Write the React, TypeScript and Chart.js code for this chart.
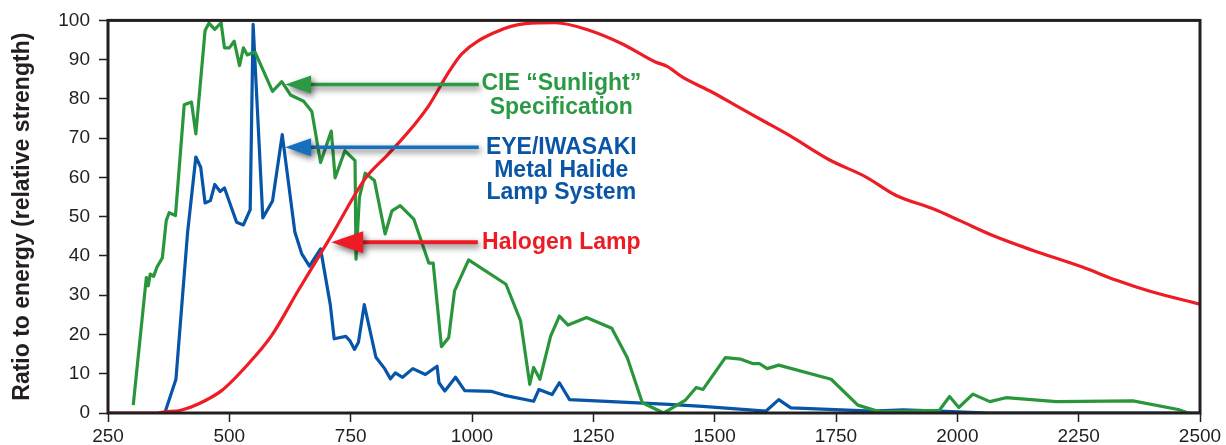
import React, { useEffect, useRef } from "react";
import { Chart, registerables } from "chart.js";

Chart.register(...registerables);

// ---- Data ----
const xTickValues = [250, 500, 750, 1000, 1250, 1500, 1750, 2000, 2250, 2500];
const yTickValues = [0, 10, 20, 30, 40, 50, 60, 70, 80, 90, 100];

const cieWavelengths = [
  302, 329, 333, 337, 344, 351, 362, 370, 376, 389, 407, 422, 431, 450, 458, 470, 483, 490, 500, 510,
  521, 529, 537, 546, 553, 589, 608, 626, 653, 670, 688, 710, 718, 738, 759, 761, 768, 780, 799, 821,
  835, 852, 880, 911, 920, 937, 952, 964, 993, 1070, 1100, 1119, 1127, 1140, 1162, 1180, 1198, 1236,
  1288, 1320, 1351, 1395, 1440, 1462, 1476, 1522, 1554, 1578, 1592, 1608, 1632, 1740, 1795, 1840,
  1963, 1984, 2003, 2032, 2067, 2100, 2204, 2362, 2455, 2476,
];
const cieValues = [
  2, 34.5, 32.4, 35.4, 34.8, 37.2, 39.5, 49, 51, 50.3, 78.5, 79.2, 71.1, 97.4, 99.3, 97.7, 99.4, 93, 93, 94.7,
  88.5, 93, 91.2, 91.7, 91.9, 81.9, 84.4, 81, 79.4, 76.8, 63.8, 71.8, 59.9, 66.8, 64.3, 39.2, 54.9, 61.1, 59.2, 45.6,
  51.5, 52.8, 49.4, 38.2, 38.2, 16.9, 19.2, 31.1, 39, 32.8, 23.5, 7.3, 11.6, 8.6, 19.6, 24.7, 22.4, 24.3,
  21.6, 14.1, 2.6, 0, 3.3, 6.5, 6, 14.1, 13.7, 12.6, 12.6, 11.3, 12.2, 8.6, 2, 0.3,
  0.7, 4.2, 1.4, 4.8, 2.9, 3.9, 2.9, 3.1, 0.9, 0,
];

const eyeWavelengths = [
  367, 390, 414, 431, 441, 450, 461, 470, 481, 490, 515, 529, 543, 549, 569, 589, 609, 635, 649, 665,
  688, 708, 716, 740, 749, 758, 766, 778, 802, 820, 832, 842, 857, 878, 904, 928, 932, 944, 966, 985,
  1041, 1067, 1127, 1138, 1165, 1180, 1201, 1406, 1475, 1606, 1632, 1657, 1826, 1888, 1963, 2066, 2500,
];
const eyeValues = [
  0, 8.6, 46, 65.2, 62.6, 53.5, 54.1, 58.2, 56.4, 57.3, 48.6, 47.9, 51.8, 99, 49.7, 54, 70.9, 46.1, 40.6, 37.4,
  41.8, 27.6, 18.9, 19.5, 18.3, 16.2, 18, 27.6, 14.2, 11.3, 8.7, 10.2, 9.1, 11.3, 9.8, 11.9, 7.7, 5.6, 9.1, 5.7,
  5.5, 4.5, 3, 6, 4.7, 7.7, 3.4, 2.2, 1.7, 0.5, 3.4, 1.3, 0.5, 0.8, 0.5, 0, 0,
];

const halogenWavelengths = [
  250, 300, 350, 367, 400, 436, 484, 539, 587, 642, 711, 780, 828, 883, 911, 952, 979, 1048, 1110, 1172,
  1241, 1310, 1378, 1402, 1433, 1495, 1544, 1599, 1654, 1736, 1812, 1874, 1950, 2005, 2073, 2156, 2259,
  2328, 2397, 2500,
];
const halogenValues = [
  0, 0, 0, 0.3, 0.7, 2.3, 5.7, 12.5, 19.7, 31.2, 45.3, 59.7, 66, 73.7, 78.3, 86.8, 91.5, 97, 99.2, 99.4,
  97.5, 94, 89.4, 88.3, 85.6, 81.7, 78.3, 74.5, 70.7, 64.5, 60.1, 55.4, 52, 49, 45.2, 41.4, 37.1,
  33.8, 31, 27.7,
];

const seriesNames = ["CIE “Sunlight” Specification", "EYE/IWASAKI Metal Halide Lamp System", "Halogen Lamp"];
const yAxisTitle = "Ratio to energy (relative strength)";

// ---- Styles ----
const GREEN_LINE = "#2a963c";
const BLUE_LINE = "#0755a8";
const RED_LINE = "#ee1c25";
const GREEN_TEXT = "#2c9a45";
const BLUE_TEXT = "#0a55a6";
const RED_TEXT = "#ed1c24";
const BLUE_ARROW = "#1670bf";
const INK = "#231f20";
const FONT = "'Liberation Sans', Arial, Helvetica, sans-serif";

const toPoints = (xs: number[], ys: number[]) => xs.map((x, i) => ({ x, y: ys[i] }));

type Callout = {
  color: string;
  arrowColor: string;
  tip: [number, number];
  tailX: number;
  headLen: number;
  headHalf: number;
  lineW: number;
  lines: { text: string; y: number }[];
};

const callouts: Callout[] = [
  {
    color: GREEN_TEXT,
    arrowColor: GREEN_TEXT,
    tip: [615, 83.7],
    tailX: 1014,
    headLen: 26,
    headHalf: 9,
    lineW: 3.5,
    lines: [
      { text: "CIE “Sunlight”", y: 83.8 },
      { text: "Specification", y: 77.9 },
    ],
  },
  {
    color: BLUE_TEXT,
    arrowColor: BLUE_ARROW,
    tip: [615, 67.7],
    tailX: 1014,
    headLen: 26,
    headHalf: 9,
    lineW: 3.5,
    lines: [
      { text: "EYE/IWASAKI", y: 67.7 },
      { text: "Metal Halide", y: 61.8 },
      { text: "Lamp System", y: 56 },
    ],
  },
  {
    color: RED_TEXT,
    arrowColor: RED_TEXT,
    tip: [710, 43.5],
    tailX: 1012,
    headLen: 32,
    headHalf: 11,
    lineW: 4,
    lines: [{ text: "Halogen Lamp", y: 43.5 }],
  },
];
const calloutTextX = 1184;

const framePlugin = {
  id: "frameAndCallouts",
  afterDatasetsDraw(chart: any) {
    const { ctx, chartArea, scales } = chart;
    const xs = scales.x;
    const ys = scales.y;
    ctx.save();
    // frame
    ctx.strokeStyle = INK;
    ctx.lineWidth = 3;
    ctx.strokeRect(chartArea.left, chartArea.top, chartArea.right - chartArea.left, chartArea.bottom - chartArea.top);

    // arrows
    for (const c of callouts) {
      const tx = xs.getPixelForValue(c.tip[0]);
      const ty = ys.getPixelForValue(c.tip[1]);
      const tailPx = xs.getPixelForValue(c.tailX);
      ctx.save();
      ctx.shadowColor = "rgba(0,0,0,0.6)";
      ctx.shadowBlur = 6;
      ctx.shadowOffsetX = 2;
      ctx.shadowOffsetY = 3;
      ctx.strokeStyle = c.arrowColor;
      ctx.fillStyle = c.arrowColor;
      ctx.lineWidth = c.lineW;
      ctx.beginPath();
      ctx.moveTo(tailPx, ty);
      ctx.lineTo(tx + c.headLen - 2, ty);
      ctx.stroke();
      ctx.beginPath();
      ctx.moveTo(tx, ty);
      ctx.lineTo(tx + c.headLen, ty - c.headHalf);
      ctx.lineTo(tx + c.headLen, ty + c.headHalf);
      ctx.closePath();
      ctx.fill();
      ctx.restore();

      ctx.fillStyle = c.color;
      ctx.font = `bold 23px ${FONT}`;
      ctx.textAlign = "center";
      ctx.textBaseline = "middle";
      const cx = xs.getPixelForValue(calloutTextX);
      for (const l of c.lines) {
        ctx.fillText(l.text, cx, ys.getPixelForValue(l.y));
      }
    }
    ctx.restore();
  },
};

export default function App() {
  const canvasRef = useRef<HTMLCanvasElement | null>(null);

  useEffect(() => {
    document.body.style.margin = "0";
    const canvas = canvasRef.current;
    if (!canvas) return;
    Chart.defaults.font.family = FONT;
    const chart = new Chart(canvas, {
      type: "line",
      data: {
        datasets: [
          {
            label: seriesNames[2],
            data: toPoints(halogenWavelengths, halogenValues),
            borderColor: RED_LINE,
            borderWidth: 3.2,
            pointRadius: 0,
            cubicInterpolationMode: "monotone",
            fill: false,
          },
          {
            label: seriesNames[0],
            data: toPoints(cieWavelengths, cieValues),
            borderColor: GREEN_LINE,
            borderWidth: 3.2,
            pointRadius: 0,
            tension: 0,
            borderJoinStyle: "round",
            fill: false,
          },
          {
            label: seriesNames[1],
            data: toPoints(eyeWavelengths, eyeValues),
            borderColor: BLUE_LINE,
            borderWidth: 3.2,
            pointRadius: 0,
            tension: 0,
            borderJoinStyle: "round",
            fill: false,
          },
        ],
      },
      options: {
        responsive: false,
        animation: false,
        devicePixelRatio: 1,
        layout: { padding: { top: 20, right: 26, bottom: 0, left: 0 } },
        plugins: {
          legend: { display: false },
          tooltip: { enabled: false },
        },
        scales: {
          x: {
            type: "linear",
            min: 250,
            max: 2500,
            afterBuildTicks: (scale: any) => {
              scale.ticks = xTickValues.map((v) => ({ value: v }));
            },
            afterFit: (scale: any) => {
              scale.height = 32;
            },
            ticks: {
              color: INK,
              font: { size: 19 },
              padding: 3,
              maxRotation: 0,
              autoSkip: false,
              callback: (v: any) => String(v),
            },
            grid: {
              display: true,
              drawOnChartArea: false,
              drawTicks: true,
              tickLength: 9,
              tickColor: INK,
              tickWidth: 1.5,
            },
            border: { display: false },
          },
          y: {
            type: "linear",
            min: 0,
            max: 100,
            afterBuildTicks: (scale: any) => {
              scale.ticks = yTickValues.map((v) => ({ value: v }));
            },
            afterFit: (scale: any) => {
              scale.width = 108;
            },
            ticks: {
              color: INK,
              font: { size: 19 },
              padding: 9,
              autoSkip: false,
              callback: (v: any) => String(v),
            },
            grid: {
              display: true,
              drawOnChartArea: false,
              drawTicks: true,
              tickLength: 9,
              tickColor: INK,
              tickWidth: 1.5,
            },
            border: { display: false },
            title: {
              display: true,
              text: yAxisTitle,
              color: INK,
              font: { size: 23, weight: "bold" },
              padding: { top: 9, bottom: 0 },
            },
          },
        },
      },
      plugins: [framePlugin],
    });
    return () => chart.destroy();
  }, []);

  return (
    <div style={{ width: 1226, height: 445 }}>
      <canvas ref={canvasRef} width={1226} height={445} />
    </div>
  );
}
